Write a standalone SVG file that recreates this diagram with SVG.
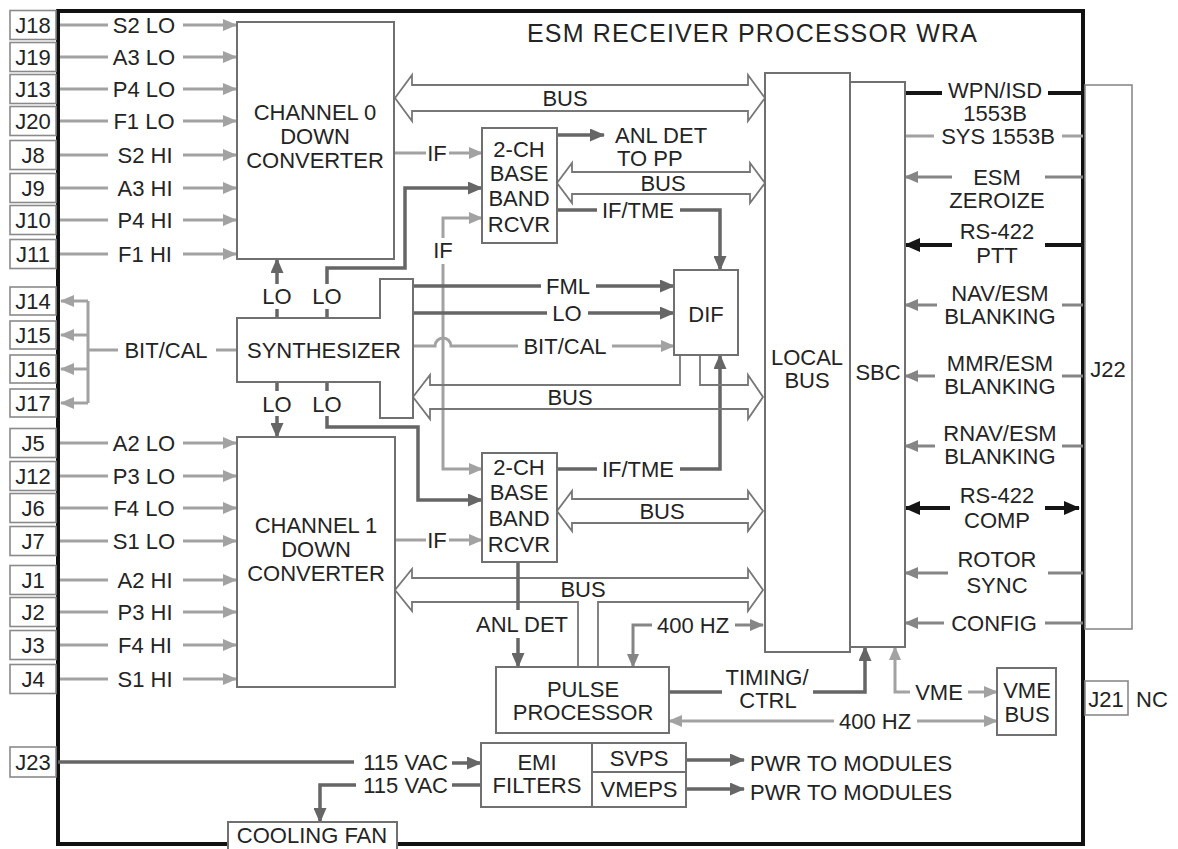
<svg xmlns="http://www.w3.org/2000/svg" width="1178" height="849" viewBox="0 0 1178 849">
<defs>
<style>
text{font-family:"Liberation Sans",Arial,sans-serif;font-size:22px;fill:#242424;text-anchor:middle}
.st{text-anchor:start}
.en{text-anchor:end}
.box{fill:#fff;stroke:#707070;stroke-width:2}
.jb{fill:#fff;stroke:#8a8a8a;stroke-width:1.6}
.bus{fill:none;stroke:#777;stroke-width:1.8;stroke-linejoin:miter}
.L{fill:none;stroke:#a2a2a2;stroke-width:3}
.M{fill:none;stroke:#858585;stroke-width:3}
.D{fill:none;stroke:#666;stroke-width:3.5}
.K{fill:none;stroke:#151515;stroke-width:4}
</style>
<marker id="aL" viewBox="0 0 14 12" refX="13" refY="6" markerWidth="14" markerHeight="12" markerUnits="userSpaceOnUse" orient="auto-start-reverse"><path d="M0,0 L14,6 L0,12 z" fill="#a2a2a2"/></marker>
<marker id="aM" viewBox="0 0 14 12" refX="13" refY="6" markerWidth="14" markerHeight="12" markerUnits="userSpaceOnUse" orient="auto-start-reverse"><path d="M0,0 L14,6 L0,12 z" fill="#858585"/></marker>
<marker id="aD" viewBox="0 0 15 13" refX="14" refY="6.5" markerWidth="15" markerHeight="13" markerUnits="userSpaceOnUse" orient="auto-start-reverse"><path d="M0,0 L15,6.5 L0,13 z" fill="#666"/></marker>
<marker id="aK" viewBox="0 0 16 14" refX="15" refY="7" markerWidth="16" markerHeight="14" markerUnits="userSpaceOnUse" orient="auto-start-reverse"><path d="M0,0 L16,7 L0,14 z" fill="#151515"/></marker>
</defs>
<rect width="1178" height="849" fill="#fff"/>

<g id="wra">
<rect x="58" y="11" width="1025" height="833" fill="none" stroke="#111" stroke-width="4"/>
<text x="527" y="42" class="st" style="font-size:25px" textLength="450">ESM RECEIVER PROCESSOR WRA</text>
</g>

<g id="connectors">
<!-- left inputs -->
<path class="L" d="M60,25 H108 M60,57 H108 M60,89 H108 M60,121 H108 M60,155 H108 M60,188 H108 M60,220 H108 M60,254 H108 M60,443 H108 M60,476 H108 M60,508 H108 M60,541 H108 M60,580 H108 M60,612 H108 M60,645 H108 M60,679 H108"/>
<path class="L" marker-end="url(#aL)" d="M183,25 H236"/>
<path class="L" marker-end="url(#aL)" d="M183,57 H236"/>
<path class="L" marker-end="url(#aL)" d="M183,89 H236"/>
<path class="L" marker-end="url(#aL)" d="M183,121 H236"/>
<path class="L" marker-end="url(#aL)" d="M183,155 H236"/>
<path class="L" marker-end="url(#aL)" d="M183,188 H236"/>
<path class="L" marker-end="url(#aL)" d="M183,220 H236"/>
<path class="L" marker-end="url(#aL)" d="M183,254 H236"/>
<path class="L" marker-end="url(#aL)" d="M183,443 H236"/>
<path class="L" marker-end="url(#aL)" d="M183,476 H236"/>
<path class="L" marker-end="url(#aL)" d="M183,508 H236"/>
<path class="L" marker-end="url(#aL)" d="M183,541 H236"/>
<path class="L" marker-end="url(#aL)" d="M183,580 H236"/>
<path class="L" marker-end="url(#aL)" d="M183,612 H236"/>
<path class="L" marker-end="url(#aL)" d="M183,645 H236"/>
<path class="L" marker-end="url(#aL)" d="M183,679 H236"/>
<text x="144" y="33">S2 LO</text><text x="144" y="65">A3 LO</text><text x="144" y="97">P4 LO</text><text x="144" y="129">F1 LO</text>
<text x="145" y="163">S2 HI</text><text x="145" y="196">A3 HI</text><text x="145" y="228">P4 HI</text><text x="145" y="262">F1 HI</text>
<text x="144" y="451">A2 LO</text><text x="144" y="484">P3 LO</text><text x="144" y="516">F4 LO</text><text x="144" y="549">S1 LO</text>
<text x="145" y="588">A2 HI</text><text x="145" y="620">P3 HI</text><text x="145" y="653">F4 HI</text><text x="145" y="687">S1 HI</text>
<!-- BIT/CAL to J14-J17 -->
<path class="L" d="M237,350 H216 M118,350 H88 M88,301 V403"/>
<path class="L" marker-end="url(#aL)" d="M88,301 H61"/>
<path class="L" marker-end="url(#aL)" d="M88,335 H61"/>
<path class="L" marker-end="url(#aL)" d="M88,369 H61"/>
<path class="L" marker-end="url(#aL)" d="M88,403 H61"/>
<text x="166" y="358">BIT/CAL</text>
<!-- LO lines -->
<path class="D" d="M277,318 V309 M327,318 V309 M277,382 V391 M327,382 V391"/>
<path class="D" marker-end="url(#aD)" d="M277,284 V259"/>
<path class="D" marker-end="url(#aD)" d="M327,284 V268 H405 V188 H482"/>
<path class="D" marker-end="url(#aD)" d="M277,416 V437"/>
<path class="D" marker-end="url(#aD)" d="M327,416 V427 H418 V500 H482"/>
<text x="277" y="304">LO</text><text x="327" y="304">LO</text>
<text x="277" y="412">LO</text><text x="327" y="412">LO</text>
<!-- IF inputs -->
<path class="L" d="M394,153 H426 M395,540 H426"/>
<path class="L" marker-end="url(#aL)" d="M449,153 H482"/>
<path class="L" marker-end="url(#aL)" d="M449,540 H482"/>
<text x="437" y="161">IF</text>
<text x="437" y="548">IF</text>
<!-- IF vertical -->
<path class="L" marker-start="url(#aL)" d="M482,218 H443 V238"/>
<path class="L" marker-end="url(#aL)" d="M443,264 V469 H482"/>
<text x="443" y="258">IF</text>
<!-- synth to DIF -->
<path class="D" d="M413,286 H541 M413,313 H547"/>
<path class="D" marker-end="url(#aD)" d="M596,286 H674"/>
<path class="D" marker-end="url(#aD)" d="M588,313 H674"/>
<path class="L" d="M413,346 H435 A8,8 0 0 1 451,346 H518"/>
<path class="L" marker-end="url(#aL)" d="M612,346 H674"/>
<text x="568" y="294">FML</text>
<text x="567" y="321">LO</text>
<text x="565" y="354">BIT/CAL</text>
<!-- ANL DET TO PP -->
<path class="D" marker-end="url(#aD)" d="M557,135 H604"/>
<text x="615" y="143" class="st">ANL DET</text>
<text x="617" y="166" class="st">TO PP</text>
<!-- IF/TME -->
<path class="D" d="M557,210 H597 M557,469 H597"/>
<path class="D" marker-end="url(#aD)" d="M680,210 H720 V270"/>
<path class="D" marker-end="url(#aD)" d="M680,469 H720 V355"/>
<text x="638" y="218">IF/TME</text>
<text x="638" y="477">IF/TME</text>
<!-- buses -->
<path class="bus" d="M395,98 L412,75 L412,85 L748,85 L748,75 L765,98 L748,121 L748,111 L412,111 L412,121 Z"/>
<text x="565" y="106">BUS</text>
<path class="bus" d="M557,183 L572,163 L572,172 L750,172 L750,163 L765,183 L750,203 L750,194 L572,194 L572,203 Z"/>
<text x="663" y="191">BUS</text>
<path class="bus" d="M680,355 L680,385 L430,385 L430,375 L413,397 L430,419 L430,409 L748,409 L748,419 L763,397 L748,375 L748,385 L700,385 L700,355"/>
<text x="570" y="405">BUS</text>
<path class="bus" d="M557,511 L572,491 L572,499 L748,499 L748,491 L763,511 L748,531 L748,523 L572,523 L572,531 Z"/>
<text x="662" y="519">BUS</text>
<path class="bus" d="M578,667 L578,602 L412,602 L412,611 L395,590 L412,569 L412,578 L748,578 L748,569 L763,590 L748,611 L748,602 L598,602 L598,667"/>
<text x="583" y="597">BUS</text>
<!-- ANL DET to pulse -->
<path class="D" d="M518,562 V610"/>
<path class="D" marker-end="url(#aD)" d="M518,638 V667"/>
<text x="522" y="632">ANL DET</text>
<!-- 400 HZ upper -->
<path class="M" marker-end="url(#aM)" d="M652,625 H633 V667"/>
<path class="M" marker-end="url(#aM)" d="M735,625 H763"/>
<text x="693" y="633">400 HZ</text>
<!-- timing/ctrl -->
<path class="D" d="M669,692 H722"/>
<path class="D" marker-end="url(#aD)" d="M813,692 H865 V647"/>
<text x="767" y="685">TIMING/</text>
<text x="768" y="708">CTRL</text>
<!-- 400 HZ lower -->
<path class="L" marker-end="url(#aL)" d="M834,721 H669"/>
<path class="L" marker-end="url(#aL)" d="M917,721 H997"/>
<text x="875" y="729">400 HZ</text>
<!-- VME -->
<path class="L" marker-end="url(#aL)" d="M910,692 H895 V647"/>
<path class="L" marker-end="url(#aL)" d="M968,692 H997"/>
<text x="939" y="700">VME</text>
<!-- right side signals -->
<path class="K" d="M905,93 H942 M1048,93 H1083"/>
<text x="995" y="98">WPN/ISD</text>
<text x="995" y="121">1553B</text>
<path class="L" d="M905,136 H934 M1062,136 H1083"/>
<text x="998" y="144">SYS 1553B</text>
<path class="M" d="M1083,177 H1045"/>
<path class="M" marker-end="url(#aM)" d="M952,177 H905"/>
<text x="997" y="185">ESM</text>
<text x="997" y="208">ZEROIZE</text>
<path class="K" d="M1083,245 H1045"/>
<path class="K" marker-end="url(#aK)" d="M952,245 H905"/>
<text x="997" y="239">RS-422</text>
<text x="997" y="263">PTT</text>
<path class="M" d="M1083,305 H1062"/>
<path class="M" marker-end="url(#aM)" d="M937,305 H905"/>
<text x="1000" y="301">NAV/ESM</text>
<text x="1000" y="324">BLANKING</text>
<path class="M" d="M1083,376 H1062"/>
<path class="M" marker-end="url(#aM)" d="M935,376 H905"/>
<text x="1000" y="371">MMR/ESM</text>
<text x="1000" y="394">BLANKING</text>
<path class="M" d="M1083,446 H1062"/>
<path class="M" marker-end="url(#aM)" d="M935,446 H905"/>
<text x="1000" y="441">RNAV/ESM</text>
<text x="1000" y="464">BLANKING</text>
<path class="K" marker-end="url(#aK)" d="M1045,508 H1079"/>
<path class="K" marker-end="url(#aK)" d="M950,508 H905"/>
<text x="997" y="503">RS-422</text>
<text x="997" y="528">COMP</text>
<path class="M" d="M1083,573 H1048"/>
<path class="M" marker-end="url(#aM)" d="M948,573 H905"/>
<text x="997" y="567">ROTOR</text>
<text x="997" y="593">SYNC</text>
<path class="M" d="M1083,623 H1045"/>
<path class="M" marker-end="url(#aM)" d="M944,623 H905"/>
<text x="994" y="631">CONFIG</text>
<!-- power -->
<path class="D" d="M58,762 H354"/>
<text x="448" y="770" class="en">115 VAC</text>
<path class="D" marker-end="url(#aD)" d="M452,763 H481"/>
<text x="448" y="793" class="en">115 VAC</text>
<path class="D" d="M481,785 H452"/>
<path class="D" marker-end="url(#aD)" d="M356,785 H320 V822"/>
<path class="D" stroke-width="4" marker-end="url(#aD)" d="M686,760 H744"/>
<path class="D" stroke-width="4" marker-end="url(#aD)" d="M686,789 H744"/>
<text x="750" y="771" class="st">PWR TO MODULES</text>
<text x="750" y="800" class="st">PWR TO MODULES</text>
</g>

<g id="J18"><rect class="jb" x="10" y="10.5" width="46" height="29"/><text x="33" y="33">J18</text></g>
<g id="J19"><rect class="jb" x="10" y="42.5" width="46" height="29"/><text x="33" y="65">J19</text></g>
<g id="J13"><rect class="jb" x="10" y="74.5" width="46" height="29"/><text x="33" y="97">J13</text></g>
<g id="J20"><rect class="jb" x="10" y="106.5" width="46" height="29"/><text x="33" y="129">J20</text></g>
<g id="J8"><rect class="jb" x="10" y="140.5" width="46" height="29"/><text x="33" y="163">J8</text></g>
<g id="J9"><rect class="jb" x="10" y="173.5" width="46" height="29"/><text x="33" y="196">J9</text></g>
<g id="J10"><rect class="jb" x="10" y="205.5" width="46" height="29"/><text x="33" y="228">J10</text></g>
<g id="J11"><rect class="jb" x="10" y="239.5" width="46" height="29"/><text x="33" y="262">J11</text></g>
<g id="J14"><rect class="jb" x="10" y="287" width="46" height="28"/><text x="33" y="309">J14</text></g>
<g id="J15"><rect class="jb" x="10" y="321" width="46" height="28"/><text x="33" y="343">J15</text></g>
<g id="J16"><rect class="jb" x="10" y="355" width="46" height="28"/><text x="33" y="377">J16</text></g>
<g id="J17"><rect class="jb" x="10" y="389" width="46" height="28"/><text x="33" y="411">J17</text></g>
<g id="J5"><rect class="jb" x="10" y="428.5" width="46" height="29"/><text x="33" y="451">J5</text></g>
<g id="J12"><rect class="jb" x="10" y="461.5" width="46" height="29"/><text x="33" y="484">J12</text></g>
<g id="J6"><rect class="jb" x="10" y="493.5" width="46" height="29"/><text x="33" y="516">J6</text></g>
<g id="J7"><rect class="jb" x="10" y="526.5" width="46" height="29"/><text x="33" y="549">J7</text></g>
<g id="J1"><rect class="jb" x="10" y="565.5" width="46" height="29"/><text x="33" y="588">J1</text></g>
<g id="J2"><rect class="jb" x="10" y="597.5" width="46" height="29"/><text x="33" y="620">J2</text></g>
<g id="J3"><rect class="jb" x="10" y="630.5" width="46" height="29"/><text x="33" y="653">J3</text></g>
<g id="J4"><rect class="jb" x="10" y="664.5" width="46" height="29"/><text x="33" y="687">J4</text></g>
<g id="J23"><rect class="jb" x="10" y="747" width="46" height="30"/><text x="33" y="770">J23</text></g>

<g id="ch0"><rect class="box" x="237" y="22" width="157" height="237"/>
<text x="315" y="120">CHANNEL 0</text><text x="315" y="144">DOWN</text><text x="315" y="168">CONVERTER</text></g>
<g id="ch1"><rect class="box" x="237" y="437" width="158" height="250"/>
<text x="316" y="533">CHANNEL 1</text><text x="316" y="557">DOWN</text><text x="316" y="581">CONVERTER</text></g>
<g id="synth"><path class="box" d="M237,318 H380 V279 H413 V418 H380 V382 H237 Z"/>
<text x="324" y="358">SYNTHESIZER</text></g>
<g id="bbr0"><rect class="box" x="482" y="128" width="75" height="115"/>
<text x="519" y="157">2-CH</text><text x="519" y="181">BASE</text><text x="519" y="206">BAND</text><text x="519" y="232">RCVR</text></g>
<g id="bbr1"><rect class="box" x="482" y="453" width="75" height="109"/>
<text x="519" y="475">2-CH</text><text x="519" y="500">BASE</text><text x="519" y="526">BAND</text><text x="519" y="552">RCVR</text></g>
<g id="dif"><rect class="box" x="674" y="270" width="64" height="85"/><text x="706" y="322">DIF</text></g>
<g id="localbus"><rect class="box" x="765" y="73" width="85" height="579"/>
<text x="807" y="365">LOCAL</text><text x="807" y="388">BUS</text></g>
<g id="sbc"><rect class="box" x="850" y="82" width="55" height="565"/><text x="878" y="380">SBC</text></g>
<g id="J22"><rect class="jb" x="1085" y="85" width="47" height="544"/><text x="1108" y="377">J22</text></g>
<g id="pulse"><rect class="box" x="496" y="667" width="173" height="66"/>
<text x="583" y="697">PULSE</text><text x="583" y="720">PROCESSOR</text></g>
<g id="emi"><rect class="box" x="481" y="743" width="205" height="64"/>
<path d="M592,743 V807 M592,772 H686" stroke="#707070" stroke-width="2" fill="none"/>
<text x="537" y="770">EMI</text><text x="537" y="793">FILTERS</text>
<text x="639" y="766">SVPS</text><text x="639" y="797">VMEPS</text></g>
<g id="vmebus"><rect class="box" x="997" y="668" width="59" height="67"/>
<text x="1027" y="698">VME</text><text x="1027" y="722">BUS</text></g>
<g id="J21"><rect class="jb" x="1085" y="681" width="43" height="34"/><text x="1106" y="707">J21</text>
<text x="1152" y="707">NC</text></g>
<g id="fan"><rect class="box" x="228" y="822" width="169" height="32"/><text x="312" y="843">COOLING FAN</text></g>
</svg>
